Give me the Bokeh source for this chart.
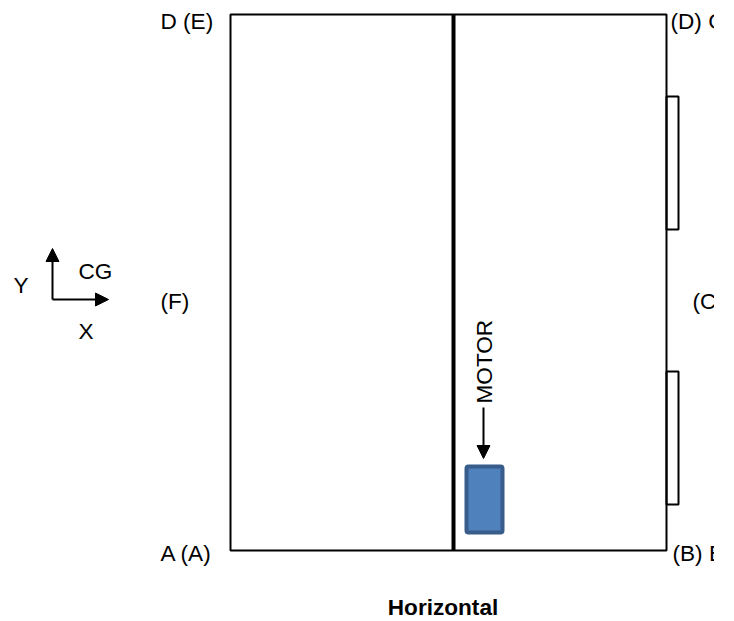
from bokeh.plotting import figure
from bokeh.models import Range1d, Arrow, NormalHead
from bokeh.core.properties import value
from bokeh.embed import file_html
from bokeh.resources import INLINE

W, H = 714, 621
BOX_L, BOX_R, BOX_T, BOX_B = [230], [666], [14], [550]
DIVIDER_X = [453]
TABS_L, TABS_R, TABS_T, TABS_B = [666, 666], [678, 678], [96, 371], [229, 504]
MOTOR_L, MOTOR_R, MOTOR_T, MOTOR_B = [466], [502], [466], [532]
LABELS = ["D (E)", "(D) C", "(F)", "(C)", "A (A)", "(B) B", "Y", "CG", "X"]
LABEL_X = [160, 670, 160, 692, 160, 672, 13, 78, 78]
LABEL_Y = [21, 21, 301, 301, 553, 553, 285, 271, 331]
TITLE = ["Horizontal"]
TITLE_X, TITLE_Y = [442.5], [607]
FONT = "22.6px"

p = figure(width=W, height=H, output_backend="svg", toolbar_location=None,
           x_range=Range1d(0, W), y_range=Range1d(H, 0),
           min_border=0, outline_line_color=None)
p.axis.visible = False
p.grid.visible = False

p.quad(left=TABS_L, right=TABS_R, top=TABS_T, bottom=TABS_B,
       fill_color="white", line_color="black", line_width=2)
p.quad(left=BOX_L, right=BOX_R, top=BOX_T, bottom=BOX_B,
       fill_color=None, line_color="black", line_width=2)
p.segment(x0=DIVIDER_X, x1=DIVIDER_X, y0=BOX_T, y1=BOX_B, line_color="black", line_width=4)
p.quad(left=MOTOR_L, right=MOTOR_R, top=MOTOR_T, bottom=MOTOR_B,
       fill_color="#4f81bd", line_color="#385d8a", line_width=4, border_radius=2)

def arrow(x0, y0, x1, y1):
    p.add_layout(Arrow(x_start=x0, y_start=y0, x_end=x1, y_end=y1, line_color="black", line_width=2,
                       end=NormalHead(size=13, fill_color="black", line_color="black", line_width=1)))

arrow(52, 299, 52, 248)
arrow(52, 299, 108, 299)
arrow(483, 407, 483, 458)

p.text(x=LABEL_X, y=LABEL_Y, text=LABELS, text_font=value("Liberation Sans"),
       text_font_size=FONT, text_color="black", text_baseline="middle", text_align="left")
p.text(x=[484], y=[403], text=["MOTOR"], angle=1.5708, angle_units="rad",
       text_font=value("Liberation Sans"), text_font_size=FONT, text_color="black",
       text_baseline="middle", text_align="left")
p.text(x=TITLE_X, y=TITLE_Y, text=TITLE, text_font=value("Liberation Sans"), text_font_style="bold",
       text_font_size=FONT, text_color="black", text_baseline="middle", text_align="center")

open("out.html", "w").write(file_html(p, INLINE))
